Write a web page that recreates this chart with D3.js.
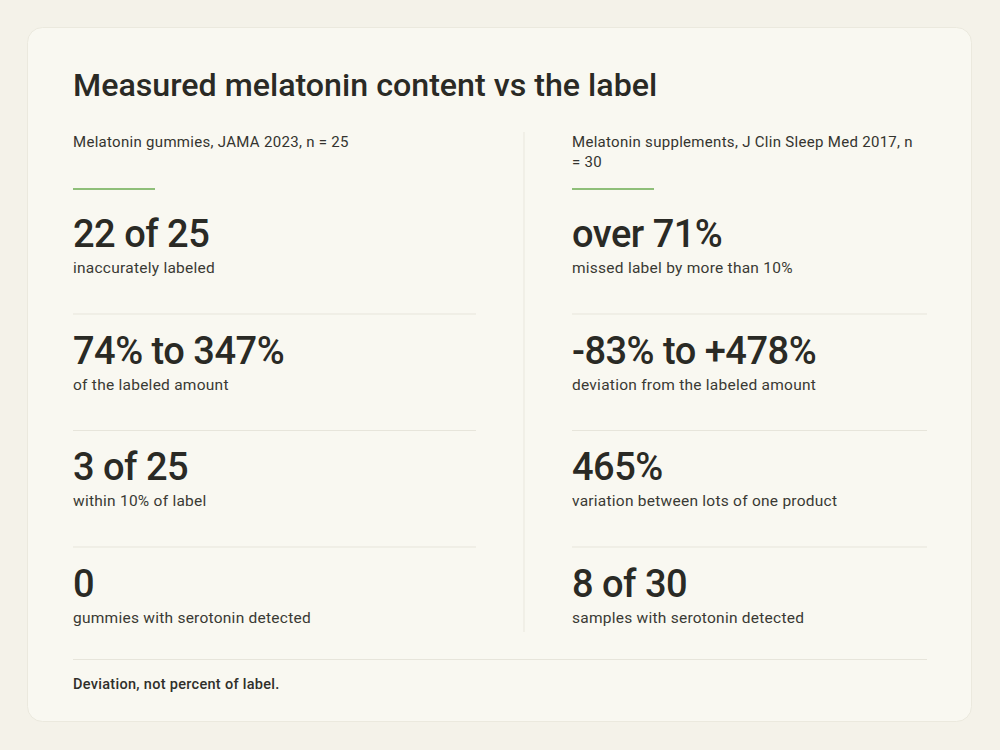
<!DOCTYPE html>
<html lang="en">
<head>
    <meta charset="UTF-8">
    <title>Measured melatonin content vs the label</title>
    <script src="https://d3js.org/d3.v7.min.js"></script>
    <style>
        body{
            margin: 0;
            background-color: #f4f2e9;
            font-family: Roboto, "Noto Sans", sans-serif;
        }
        svg{
            display: block;
        }
    </style>
</head>
<body>
    <svg></svg>
<script>
    const title = 'Measured melatonin content vs the label';
    const footnote = 'Deviation, not percent of label.';

    /* one entry per column */
    const sources = [
        ['Melatonin gummies, JAMA 2023, n = 25'],
        ['Melatonin supplements, J Clin Sleep Med 2017, n', '= 30']
    ];
    const leftValues = ['22 of 25', '74% to 347%', '3 of 25', '0'];
    const leftLabels = ['inaccurately labeled', 'of the labeled amount', 'within 10% of label', 'gummies with serotonin detected'];
    const rightValues = ['over 71%', '-83% to +478%', '465%', '8 of 30'];
    const rightLabels = ['missed label by more than 10%', 'deviation from the labeled amount', 'variation between lots of one product', 'samples with serotonin detected'];

    const width = 1000;
    const height = 750;

    const svg = d3.select('svg')
            .attr('width', width)
            .attr('height', height);

    /* card */
    svg.append('rect')
        .attr('x', 27.5).attr('y', 27.5)
        .attr('width', 944).attr('height', 694)
        .attr('rx', 15)
        .attr('fill', '#f9f8f1')
        .attr('stroke', '#ebe9de');

    svg.append('text')
        .attr('x', 73).attr('y', 96)
        .attr('font-size', 32.2)
        .attr('font-weight', 500)
        .attr('fill', '#2a2a25')
        .text(title);

    /* columns and rows */
    const colX = d3.scaleOrdinal().domain([0, 1]).range([73, 572]);
    const colRight = d3.scaleOrdinal().domain([0, 1]).range([476, 927]);
    const rowY = d3.scaleLinear().domain([0, 1]).range([247, 363.5]);

    const columns = [
        {values: leftValues, labels: leftLabels},
        {values: rightValues, labels: rightLabels}
    ];

    columns.forEach(function(col, c){
        const g = svg.append('g');
        const x = colX(c);

        /* source line(s) */
        g.selectAll('text.source')
            .data(sources[c])
            .join('text')
            .attr('class', 'source')
            .attr('x', x)
            .attr('y', (d, i) => 146.5 + i * 20)
            .attr('font-size', 15)
            .attr('letter-spacing', 0.3)
            .attr('fill', '#34342f')
            .text(d => d);

        /* green accent */
        g.append('line')
            .attr('x1', x).attr('x2', x + 82)
            .attr('y1', 189).attr('y2', 189)
            .attr('stroke', '#8fbf79')
            .attr('stroke-width', 2);

        const rows = d3.range(col.values.length);

        g.selectAll('text.value')
            .data(rows)
            .join('text')
            .attr('class', 'value')
            .attr('x', x)
            .attr('y', i => rowY(i))
            .attr('font-size', 38)
            .attr('font-weight', 500)
            .attr('fill', '#2a2a25')
            .attr('letter-spacing', -0.5)
            .text(i => col.values[i]);

        g.selectAll('text.label')
            .data(rows)
            .join('text')
            .attr('class', 'label')
            .attr('x', x)
            .attr('y', i => rowY(i) + 26)
            .attr('font-size', 15.5)
            .attr('letter-spacing', 0.25)
            .attr('fill', '#3a3a34')
            .text(i => col.labels[i]);

        /* separators between rows */
        g.selectAll('line.sep')
            .data(rows.slice(1))
            .join('line')
            .attr('class', 'sep')
            .attr('x1', x).attr('x2', colRight(c))
            .attr('y1', i => rowY(i) - 49.5)
            .attr('y2', i => rowY(i) - 49.5)
            .attr('stroke', '#e7e5db')
            .attr('stroke-width', 1);
    });

    /* column divider */
    svg.append('line')
        .attr('x1', 524).attr('x2', 524)
        .attr('y1', 132).attr('y2', 632)
        .attr('stroke', '#e9e7dd');

    /* footer */
    svg.append('line')
        .attr('x1', 73).attr('x2', 927)
        .attr('y1', 659.5).attr('y2', 659.5)
        .attr('stroke', '#e7e5db');

    svg.append('text')
        .attr('x', 73).attr('y', 689)
        .attr('font-size', 14.5)
        .attr('font-weight', 500)
        .attr('letter-spacing', 0.3)
        .attr('fill', '#2f2f2a')
        .text(footnote);
</script>
</body>
</html>
